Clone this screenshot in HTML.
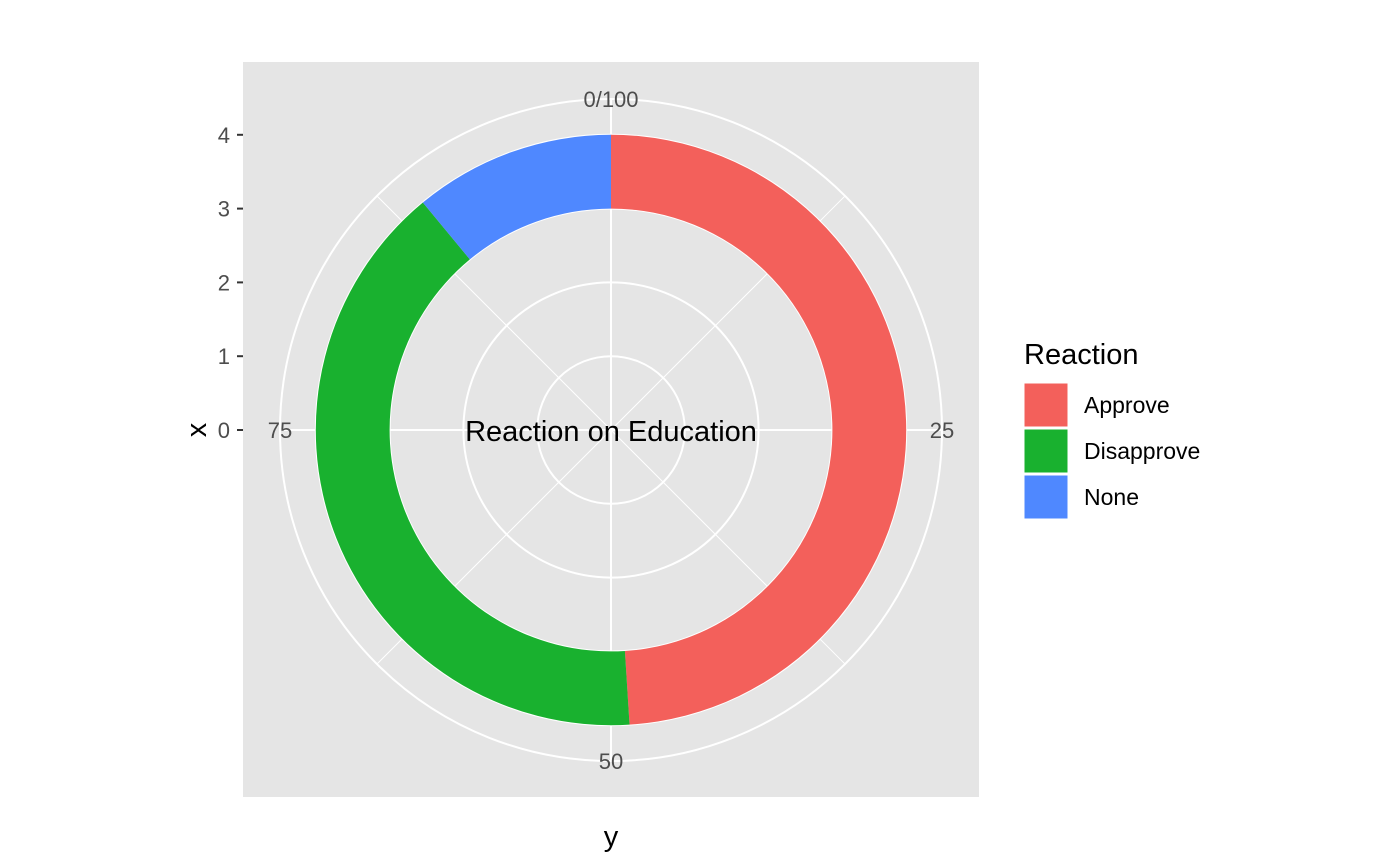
<!DOCTYPE html>
<html><head><meta charset="utf-8"><style>
body{margin:0;background:#fff;}
svg{display:block;font-family:"Liberation Sans",Arial,sans-serif;}
</style></head><body>
<svg id="chart" width="1400" height="865" viewBox="0 0 1400 865">
<rect x="243" y="62" width="736" height="735" fill="#e5e5e5"/>
<g id="grid"></g>
<g id="slices"></g>
<g id="labels"></g>
<text x="611" y="441" font-size="29" text-anchor="middle" fill="#000">Reaction on Education</text>
<text x="611" y="846" font-size="29" text-anchor="middle" fill="#000">y</text>
<text transform="translate(206,430) rotate(-90)" font-size="29" text-anchor="middle" fill="#000">x</text>
<g>
<text x="1024" y="364" font-size="29" fill="#000">Reaction</text>
<g id="legend"></g>
</g>
</svg>
<script>
const categories=["Approve","Disapprove","None"];
const values=[49,40,11];
const fills=["#f3605b","#19b12f","#4f88ff"];
const thetaTicks=["0/100","25","50","75"];
const thetaTickVals=[0,25,50,75];
const rTickVals=[0,1,2,3,4];
const NS="http://www.w3.org/2000/svg";
const cx=611,cy=430,unit=73.8,outerR=331;
function r(v){return v*unit;}
function pt(val,rad){const a=val/100*2*Math.PI;return [cx+rad*Math.sin(a),cy-rad*Math.cos(a)];}
function mk(tag,attrs,parent){const e=document.createElementNS(NS,tag);for(const k in attrs)e.setAttribute(k,attrs[k]);parent.appendChild(e);return e;}
const grid=document.getElementById('grid');
for(let i=0;i<8;i++){const v=i*12.5;const p=pt(v,outerR);
 const l=mk('line',{x1:cx,y1:cy,x2:p[0],y2:p[1],stroke:'#fff','stroke-width':i%2?1:2},grid);
 
 }
for(const v of rTickVals.slice(1)){const c=mk('circle',{cx:cx,cy:cy,r:r(v),fill:'none',stroke:'#fff','stroke-width':2},grid);
 
 }
const oc=mk('circle',{cx:cx,cy:cy,r:outerR,fill:'none',stroke:'#fff','stroke-width':2},grid);


const sl=document.getElementById('slices');
let cum=0;const r0=r(3),r1=r(4);
values.forEach((v,i)=>{const a=cum,b=cum+v;cum=b;
 const p1=pt(a,r1),p2=pt(b,r1),p3=pt(b,r0),p4=pt(a,r0);const lg=v>50?1:0;
 const d=`M${p1}A${r1},${r1} 0 ${lg} 1 ${p2}L${p3}A${r0},${r0} 0 ${lg} 0 ${p4}Z`;
 const e=mk('path',{d:d,fill:fills[i]},sl);
 
 });
const lb=document.getElementById('labels');
thetaTickVals.forEach((v,i)=>{const p=pt(v,outerR);
 const t=mk('text',{x:p[0],y:p[1]+8,'font-size':22,'text-anchor':'middle',fill:'#4d4d4d'},lb);t.textContent=thetaTicks[i];
 
 });
rTickVals.forEach(v=>{const y=cy-r(v);
 const tk=mk('line',{x1:237,x2:243,y1:y,y2:y,stroke:'#333','stroke-width':2},lb);
 
 
 const t=mk('text',{x:230,y:y+8,'font-size':22,'text-anchor':'end',fill:'#4d4d4d'},lb);t.textContent=v;
 
 });
const lgd=document.getElementById('legend');
categories.forEach((c,i)=>{const y=383+i*46;
 const k=mk('rect',{x:1024,y:y,width:44,height:44,fill:fills[i],stroke:'#fff','stroke-width':1},lgd);
 
 
 const t=mk('text',{x:1084,y:y+30,'font-size':23,fill:'#000'},lgd);t.textContent=c;
 
 });
</script>
</body></html>
